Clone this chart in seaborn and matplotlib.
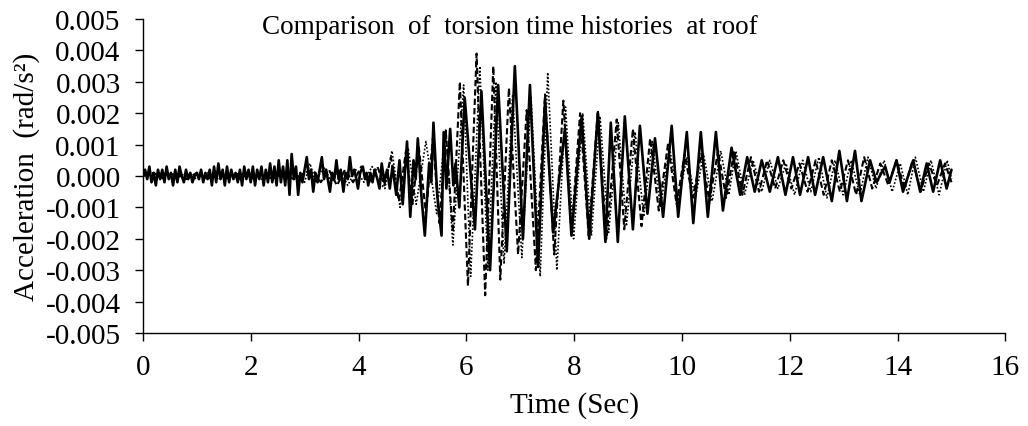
import numpy as np
import pandas as pd
import matplotlib
matplotlib.use("Agg")
import matplotlib.pyplot as plt
import seaborn as sns

UNIT = 1e-4  # values below are in 1e-4 rad/s^2

# ---------------- data ----------------
solid_noise_step = 0.04
solid_noise = [0, 2, -1, 3, -2, 1, -3, 2, -1, 2, -2, 3, -1, 1, -3, 2, -2, 3, 0, -2,
               2, -1, 1, -2, 0, 1, -1, 2, -2, 1, -1, 2, -3, 3, -2, 4, -1, 2, -3, 3,
               -2, 2, -1, 1, -2, 2, -3, 3, -1, 2, -2, 3, -3, 2, -1, 3, -3, 2, -2, 4,
               -2, 3, -3, 5, -2, 3]

solid_t = [2.64, 2.68, 2.72, 2.76, 2.80, 2.84, 2.88, 2.92, 2.96, 3.00,
           3.04, 3.08, 3.12, 3.16, 3.20, 3.24, 3.28, 3.32, 3.36, 3.40,
           3.44, 3.47, 3.51, 3.55, 3.59, 3.63, 3.67, 3.72, 3.76, 3.80,
           3.84, 3.88, 3.92, 3.96, 3.99, 4.03, 4.08, 4.12, 4.15, 4.18,
           4.22, 4.26, 4.30, 4.35, 4.39, 4.43, 4.48, 4.53, 4.58, 4.63,
           4.70, 4.76, 4.82, 4.90, 4.96, 5.02, 5.06, 5.10, 5.16, 5.23,
           5.31, 5.35, 5.39, 5.46, 5.54, 5.58, 5.63, 5.70, 5.76, 5.80,
           5.87, 5.97, 6.16, 6.28, 6.44, 6.59, 6.75, 6.90, 7.05, 7.18,
           7.33, 7.46, 7.61, 7.83, 7.95, 8.14, 8.28, 8.44, 8.58, 8.68,
           8.81, 8.94, 9.09, 9.22, 9.36, 9.50, 9.65, 9.81, 9.93, 10.09,
           10.21, 10.35, 10.48, 10.63, 10.76, 10.92, 11.08, 11.21, 11.35, 11.48,
           11.63, 11.78, 11.92, 12.06, 12.19, 12.34, 12.47, 12.62, 12.78, 12.92,
           13.06, 13.21, 13.33, 13.49, 13.61, 13.70, 13.77, 13.85, 13.98, 14.10,
           14.29, 14.42, 14.54, 14.66, 14.79, 14.91, 15.00]
solid_v = [-3, 5, -6, 7, -1, 3, -6, 1, -2, 2,
           6, -1, 2, -5, 1, -2, 2, 6, -1, 2,
           -2, -5, 1, -1, 5, -1, 2, -5, 1, -1,
           6, 0, 2, -1, -4, 1, 3, -1, 1, -3,
           1, -2, 2, -1, -4, 4, -2, 2, -4, 3,
           -6, 5, -9, 11, -13, 5, -1, 12, -5, -19,
           4, -2, 17, -6, -19, 14, -4, 15, -3, 4,
           -10, 25, -17, 27, -30, 29, -24, 35, -20, 29,
           -29, 24, -18, 15, -19, 19, -20, 20, -21, 17,
           -21, 19, -17, 16, -12, 12, -13, 16, -13, 14,
           -15, 14, -13, 14, -11, 9, -6, 6, -5, 5,
           -5, 6, -6, 6, -6, 6, -6, 6, -8, 8,
           -8, 8, -8, 5, -2, 1, 3, -2, 5, -5,
           5, -5, 4, -5, 5, -4, 2]

dashed_t = [0.0, 0.2, 0.4, 0.6, 0.8, 1.0, 1.2, 1.4, 1.6, 1.8, 2.0, 2.2, 2.4, 2.6, 2.8, 3.0,
            3.15, 3.30, 3.45, 3.60, 3.75, 3.90, 4.05, 4.20, 4.35, 4.48,
            4.60, 4.75, 4.88, 5.00, 5.12, 5.25, 5.38, 5.50, 5.62, 5.75,
            5.88, 6.03, 6.19, 6.35, 6.50, 6.63, 6.79, 6.96, 7.12, 7.29,
            7.46, 7.63, 7.80, 7.95, 8.11, 8.27, 8.44, 8.60, 8.79, 8.93,
            9.09, 9.25, 9.41, 9.57, 9.74, 9.90, 10.05, 10.20, 10.36, 10.51,
            10.67, 10.82, 10.97, 11.12, 11.28, 11.43, 11.58, 11.73, 11.88, 12.03,
            12.18, 12.33, 12.48, 12.63, 12.78, 12.93, 13.08, 13.23, 13.38, 13.53,
            13.68, 13.83, 13.98, 14.13, 14.28, 14.43, 14.58, 14.73, 14.88, 15.00]
dashed_v = [0, 1, -1, 1, -1, 1, -1, 1, -1, 1, -1, 1, -1, 1, -1, 1,
            2, -2, 2, -3, 2, -2, 3, -2, 3, -3,
            6, -8, 8, -9, 9, -12, 12, -15, 14, -18,
            30, -35, 39, -38, 35, -33, 28, -25, 21, -30,
            26, -25, 24, -18, 20, -19, 21, -20, 18, -17,
            15, -16, 12, -11, 10, -9, 7, -7, 7, -8,
            8, -7, 8, -6, 6, -5, 5, -4, 5, -4,
            4, -5, 5, -6, 5, -5, 5, -6, 6, -4,
            4, -3, 5, -4, 5, -5, 4, -3, 4, -2]

dotted_t = [0.0, 0.2, 0.4, 0.6, 0.8, 1.0, 1.2, 1.4, 1.6, 1.8, 2.0, 2.2, 2.4, 2.6, 2.8, 3.0,
            3.10, 3.20, 3.35, 3.50, 3.65, 3.80, 3.95, 4.10, 4.25, 4.38,
            4.49, 4.62, 4.77, 4.92, 5.07, 5.25, 5.45, 5.62, 5.75, 5.95,
            6.08, 6.25, 6.40, 6.55, 6.70, 6.86, 7.03, 7.20, 7.37, 7.51,
            7.68, 7.84, 7.99, 8.16, 8.32, 8.48, 8.64, 8.82, 8.97, 9.13,
            9.29, 9.45, 9.60, 9.77, 9.93, 10.09, 10.25, 10.40, 10.56, 10.72,
            10.87, 11.00, 11.16, 11.32, 11.48, 11.63, 11.78, 11.93, 12.09, 12.24,
            12.39, 12.54, 12.69, 12.84, 12.99, 13.14, 13.30, 13.45, 13.60, 13.75,
            13.90, 14.05, 14.19, 14.33, 14.48, 14.62, 14.77, 14.92, 15.00]
dotted_v = [0, -1, 1, -1, 1, -1, 1, -1, 1, -1, 1, -1, 1, -1, 1, -2,
            4, -2, 3, -2, 2, -3, 2, -2, 3, -2,
            -4, 8, -10, 9, -9, 11, -12, 15, -22, 29,
            -32, 35, -30, 30, -28, 26, -26, 25, -32, 33,
            -30, 22, -20, 20, -19, 19, -18, 17, -16, 14,
            -13, 11, -10, 9, -8, 6, -7, 7, -8, 8,
            -6, 8, -6, 5, -5, 5, -4, 4, -6, 5,
            -5, 6, -7, 5, -6, 5, -6, 6, -4, 5,
            -5, 4, -6, 6, -5, 5, -6, 5, -1]

x_ticks = [0, 2, 4, 6, 8, 10, 12, 14, 16]
y_ticks = [-0.005, -0.004, -0.003, -0.002, -0.001, 0.0, 0.001, 0.002, 0.003, 0.004, 0.005]

title = "Comparison  of  torsion time histories  at roof"
xlabel = "Time (Sec)"
ylabel = "Acceleration  (rad/s\u00b2)"

# ---------------- build ----------------
sns.set_theme(style="ticks")
plt.rcParams["font.family"] = ["Liberation Serif", "DejaVu Serif"]
plt.rcParams["axes.unicode_minus"] = False

noise_t = np.arange(len(solid_noise)) * solid_noise_step
solid_df = pd.DataFrame({"t": np.concatenate([noise_t, solid_t]),
                         "a": np.concatenate([solid_noise, solid_v]) * UNIT})
dashed_df = pd.DataFrame({"t": dashed_t, "a": np.array(dashed_v) * UNIT})
dotted_df = pd.DataFrame({"t": dotted_t, "a": np.array(dotted_v) * UNIT})

fig = plt.figure(figsize=(10.28, 4.27), dpi=100)
ax = fig.add_axes([0.139, 0.218, 0.839, 0.735])

sns.lineplot(data=dotted_df, x="t", y="a", ax=ax, sort=False, estimator=None,
             color="black", linewidth=1.2, linestyle=(0, (1, 1.2)))
sns.lineplot(data=dashed_df, x="t", y="a", ax=ax, sort=False, estimator=None,
             color="black", linewidth=1.5, linestyle=(0, (3, 1.5)))
sns.lineplot(data=solid_df, x="t", y="a", ax=ax, sort=False, estimator=None,
             color="black", linewidth=1.9)

ax.set_xlim(0, 16)
ax.set_ylim(-0.005, 0.005)
ax.set_xticks(x_ticks)
ax.set_yticks(y_ticks)
ax.set_xticklabels([str(v) for v in x_ticks])
ax.set_yticklabels([f"{v:.3f}" for v in y_ticks])
ax.tick_params(axis="both", labelsize=21, length=6, width=1, color="black",
               labelcolor="black", direction="out")
ax.tick_params(axis="y", pad=10)
ax.tick_params(axis="x", pad=9)
ax.set_xlabel(xlabel, fontsize=21, color="black", labelpad=8)
ax.set_ylabel(ylabel, fontsize=21, color="black", labelpad=4)
for s in ["top", "right"]:
    ax.spines[s].set_visible(False)
for s in ["left", "bottom"]:
    ax.spines[s].set_color("black")
    ax.spines[s].set_linewidth(1.0)
ax.grid(False)

ax.text(0.426, 0.975, title, transform=ax.transAxes, ha="center", va="center",
        fontsize=19.5, color="black")

fig.savefig("out.png", dpi=100)
